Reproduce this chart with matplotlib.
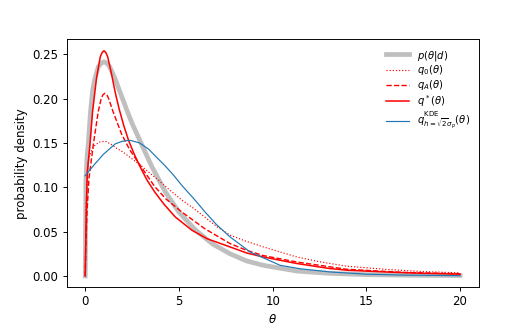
import matplotlib
matplotlib.use("Agg")
import matplotlib.pyplot as plt

# p(theta|d)
theta_p = [0, 0.04, 0.1, 0.16, 0.28, 0.4, 0.52, 0.7, 0.85, 1.0, 1.15, 1.3, 1.58, 1.9, 2.2, 2.5,
           2.93, 3.56, 4.27, 5.0, 5.87, 6.8, 7.73, 8.6, 9.5, 11.3, 13, 15, 17.5, 20]
dens_p = [0, 0.11, 0.135, 0.148, 0.185, 0.21, 0.223, 0.236, 0.240, 0.2415, 0.240, 0.236, 0.223,
          0.205, 0.188, 0.172, 0.152, 0.123, 0.095, 0.072, 0.052, 0.036, 0.025, 0.017, 0.012,
          0.0055, 0.003, 0.0015, 0.0008, 0.0005]

# q_0
theta_q0 = [0, 0.03, 0.08, 0.16, 0.3, 0.5, 0.75, 1.05, 1.35, 1.67, 2.0, 2.5, 3.0, 3.5, 3.91, 4.5,
            5.16, 5.8, 6.4, 7.0, 7.73, 8.6, 9.51, 11.29, 12.5, 13.96, 16, 18, 20]
dens_q0 = [0, 0.06, 0.1, 0.13, 0.14, 0.147, 0.151, 0.152, 0.149, 0.144, 0.14, 0.132, 0.124, 0.115,
           0.108, 0.097, 0.0855, 0.076, 0.066, 0.056, 0.046, 0.039, 0.0327, 0.0214, 0.016, 0.011,
           0.0075, 0.005, 0.0035]

# q_A
theta_qA = [0, 0.03, 0.1, 0.2, 0.43, 0.69, 0.85, 0.95, 1.05, 1.15, 1.25, 1.49, 1.94, 2.38, 3.02,
            3.7, 4.3, 5.16, 6.4, 7.73, 8.6, 9.5, 11.3, 13.96, 17, 20]
dens_qA = [0, 0.035, 0.075, 0.11, 0.148, 0.185, 0.200, 0.2045, 0.206, 0.2045, 0.200, 0.185, 0.16,
           0.142, 0.122, 0.101, 0.087, 0.072, 0.053, 0.0365, 0.029, 0.023, 0.0157, 0.0075, 0.004,
           0.0025]

# q*
theta_qs = [0, 0.03, 0.06, 0.11, 0.25, 0.39, 0.6, 0.8, 0.9, 1.0, 1.1, 1.2, 1.4, 1.6, 1.8, 2.05,
            2.31, 2.6, 2.93, 3.3, 3.73, 4.2, 4.8, 5.69, 6.5, 7.73, 8.6, 9.5, 11.3, 13, 14, 16, 18, 20]
dens_qs = [0, 0.04, 0.08, 0.117, 0.148, 0.185, 0.223, 0.247, 0.252, 0.254, 0.252, 0.247, 0.228,
           0.207, 0.189, 0.170, 0.153, 0.138, 0.123, 0.108, 0.094, 0.081, 0.0666, 0.0516, 0.042,
           0.0327, 0.026, 0.0214, 0.014, 0.0085, 0.0064, 0.0045, 0.003, 0.002]

# KDE
theta_kde = [0, 0.5, 0.96, 1.6, 2.0, 2.4, 2.9, 3.38, 3.8, 4.27, 4.7, 5.16, 5.8, 6.4, 7.0, 7.73,
             8.8, 10.4, 11.5, 13.07, 15, 17, 20]
dens_kde = [0.113, 0.126, 0.137, 0.149, 0.152, 0.153, 0.150, 0.143, 0.134, 0.124, 0.114, 0.102,
            0.087, 0.072, 0.058, 0.044, 0.027, 0.012, 0.008, 0.0045, 0.002, 0.001, 0.0003]

labels = [r'$p(\theta|d)$', r'$q_0(\theta)$', r'$q_A(\theta)$', r'$q^*(\theta)$',
          r'$q^{\rm KDE}_{h=\sqrt{2}\sigma_p}(\theta)$']

DPI = 85
fig = plt.figure(figsize=(532 / DPI, 329 / DPI), dpi=DPI)
ax = fig.add_axes([0.125, 0.127, 0.775, 0.753])

ax.plot(theta_p, dens_p, color='0.75', lw=4, label=labels[0])
ax.plot(theta_q0, dens_q0, color='red', lw=1.0, ls=':', label=labels[1])
ax.plot(theta_qA, dens_qA, color='red', lw=1.2, ls='--', label=labels[2])
ax.plot(theta_qs, dens_qs, color='red', lw=1.3, ls='-', label=labels[3])
ax.plot(theta_kde, dens_kde, color='tab:blue', lw=1.0, label=labels[4])

ax.set_xlim(-1, 21)
ax.set_ylim(-0.0127, 0.2667)
ax.set_xticks([0, 5, 10, 15, 20])
ax.set_yticks([0, 0.05, 0.10, 0.15, 0.20, 0.25])
ax.set_xlabel(r'$\theta$')
ax.set_ylabel('probability density')
ax.legend(loc='upper right', frameon=False, fontsize=8.5, handlelength=2.3,
          labelspacing=0.08)

fig.savefig('out.png', dpi=DPI)
